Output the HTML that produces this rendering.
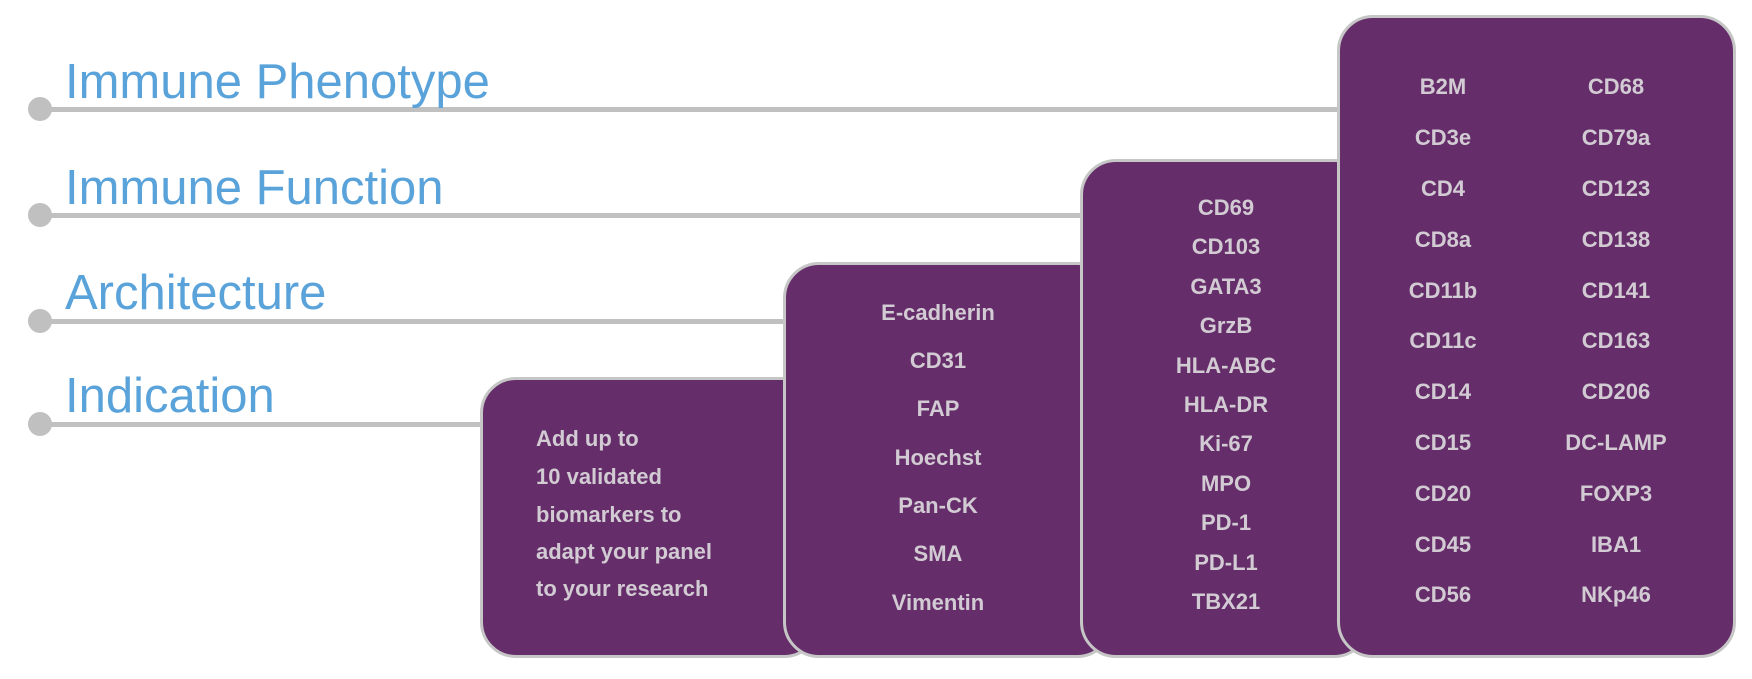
<!DOCTYPE html>
<html><head><meta charset="utf-8"><style>
body{margin:0;width:1752px;height:679px;background:#fff;position:relative;overflow:hidden;font-family:"Liberation Sans",sans-serif}
.ln{position:absolute;left:40px;height:5px;background:#c0c0c0}
.dot{position:absolute;left:28px;width:24px;height:24px;border-radius:50%;background:#c0c0c0}
.lb{position:absolute;left:65px;font-size:49px;color:#5aa3da;line-height:50px;white-space:nowrap}
.bx{position:absolute;background:#652e6a;border:3px solid #c6c6c6;border-radius:36px;box-sizing:border-box}
.t{position:absolute;color:#d2cbd3;font-weight:bold;font-size:22px;line-height:30px;text-align:center;width:200px;margin-left:-100px;margin-top:-15px;white-space:nowrap}
.p{position:absolute;color:#d2cbd3;font-weight:bold;font-size:22px;line-height:30px;left:536px;margin-top:-15px;white-space:nowrap}
</style></head><body>
<div class="ln" style="top:107px;width:1300px"></div><div class="dot" style="top:97px"></div>
<div class="ln" style="top:213px;width:1045px"></div><div class="dot" style="top:203px"></div>
<div class="ln" style="top:319px;width:750px"></div><div class="dot" style="top:309px"></div>
<div class="ln" style="top:422px;width:445px"></div><div class="dot" style="top:412px"></div>
<div class="lb" style="top:57px">Immune Phenotype</div>
<div class="lb" style="top:163px">Immune Function</div>
<div class="lb" style="top:268px">Architecture</div>
<div class="lb" style="top:371px">Indication</div>

<div class="bx" style="left:480px;top:377px;width:340px;height:281px"></div>
<div class="bx" style="left:783px;top:262px;width:330px;height:396px"></div>
<div class="bx" style="left:1080px;top:159px;width:290px;height:499px"></div>
<div class="bx" style="left:1337px;top:15px;width:399px;height:643px"></div>

<div class="p" style="top:439px">Add up to</div>
<div class="p" style="top:477px">10 validated</div>
<div class="p" style="top:515px">biomarkers to</div>
<div class="p" style="top:552px">adapt your panel</div>
<div class="p" style="top:589px">to your research</div>

<div class="t" style="left:938px;top:313px">E-cadherin</div>
<div class="t" style="left:938px;top:361px">CD31</div>
<div class="t" style="left:938px;top:409px">FAP</div>
<div class="t" style="left:938px;top:458px">Hoechst</div>
<div class="t" style="left:938px;top:506px">Pan-CK</div>
<div class="t" style="left:938px;top:554px">SMA</div>
<div class="t" style="left:938px;top:603px">Vimentin</div>

<div class="t" style="left:1226px;top:208px">CD69</div>
<div class="t" style="left:1226px;top:247px">CD103</div>
<div class="t" style="left:1226px;top:287px">GATA3</div>
<div class="t" style="left:1226px;top:326px">GrzB</div>
<div class="t" style="left:1226px;top:366px">HLA-ABC</div>
<div class="t" style="left:1226px;top:405px">HLA-DR</div>
<div class="t" style="left:1226px;top:444px">Ki-67</div>
<div class="t" style="left:1226px;top:484px">MPO</div>
<div class="t" style="left:1226px;top:523px">PD-1</div>
<div class="t" style="left:1226px;top:563px">PD-L1</div>
<div class="t" style="left:1226px;top:602px">TBX21</div>

<div class="t" style="left:1443px;top:87px">B2M</div>
<div class="t" style="left:1443px;top:138px">CD3e</div>
<div class="t" style="left:1443px;top:189px">CD4</div>
<div class="t" style="left:1443px;top:240px">CD8a</div>
<div class="t" style="left:1443px;top:291px">CD11b</div>
<div class="t" style="left:1443px;top:341px">CD11c</div>
<div class="t" style="left:1443px;top:392px">CD14</div>
<div class="t" style="left:1443px;top:443px">CD15</div>
<div class="t" style="left:1443px;top:494px">CD20</div>
<div class="t" style="left:1443px;top:545px">CD45</div>
<div class="t" style="left:1443px;top:595px">CD56</div>

<div class="t" style="left:1616px;top:87px">CD68</div>
<div class="t" style="left:1616px;top:138px">CD79a</div>
<div class="t" style="left:1616px;top:189px">CD123</div>
<div class="t" style="left:1616px;top:240px">CD138</div>
<div class="t" style="left:1616px;top:291px">CD141</div>
<div class="t" style="left:1616px;top:341px">CD163</div>
<div class="t" style="left:1616px;top:392px">CD206</div>
<div class="t" style="left:1616px;top:443px">DC-LAMP</div>
<div class="t" style="left:1616px;top:494px">FOXP3</div>
<div class="t" style="left:1616px;top:545px">IBA1</div>
<div class="t" style="left:1616px;top:595px">NKp46</div>
</body></html>
